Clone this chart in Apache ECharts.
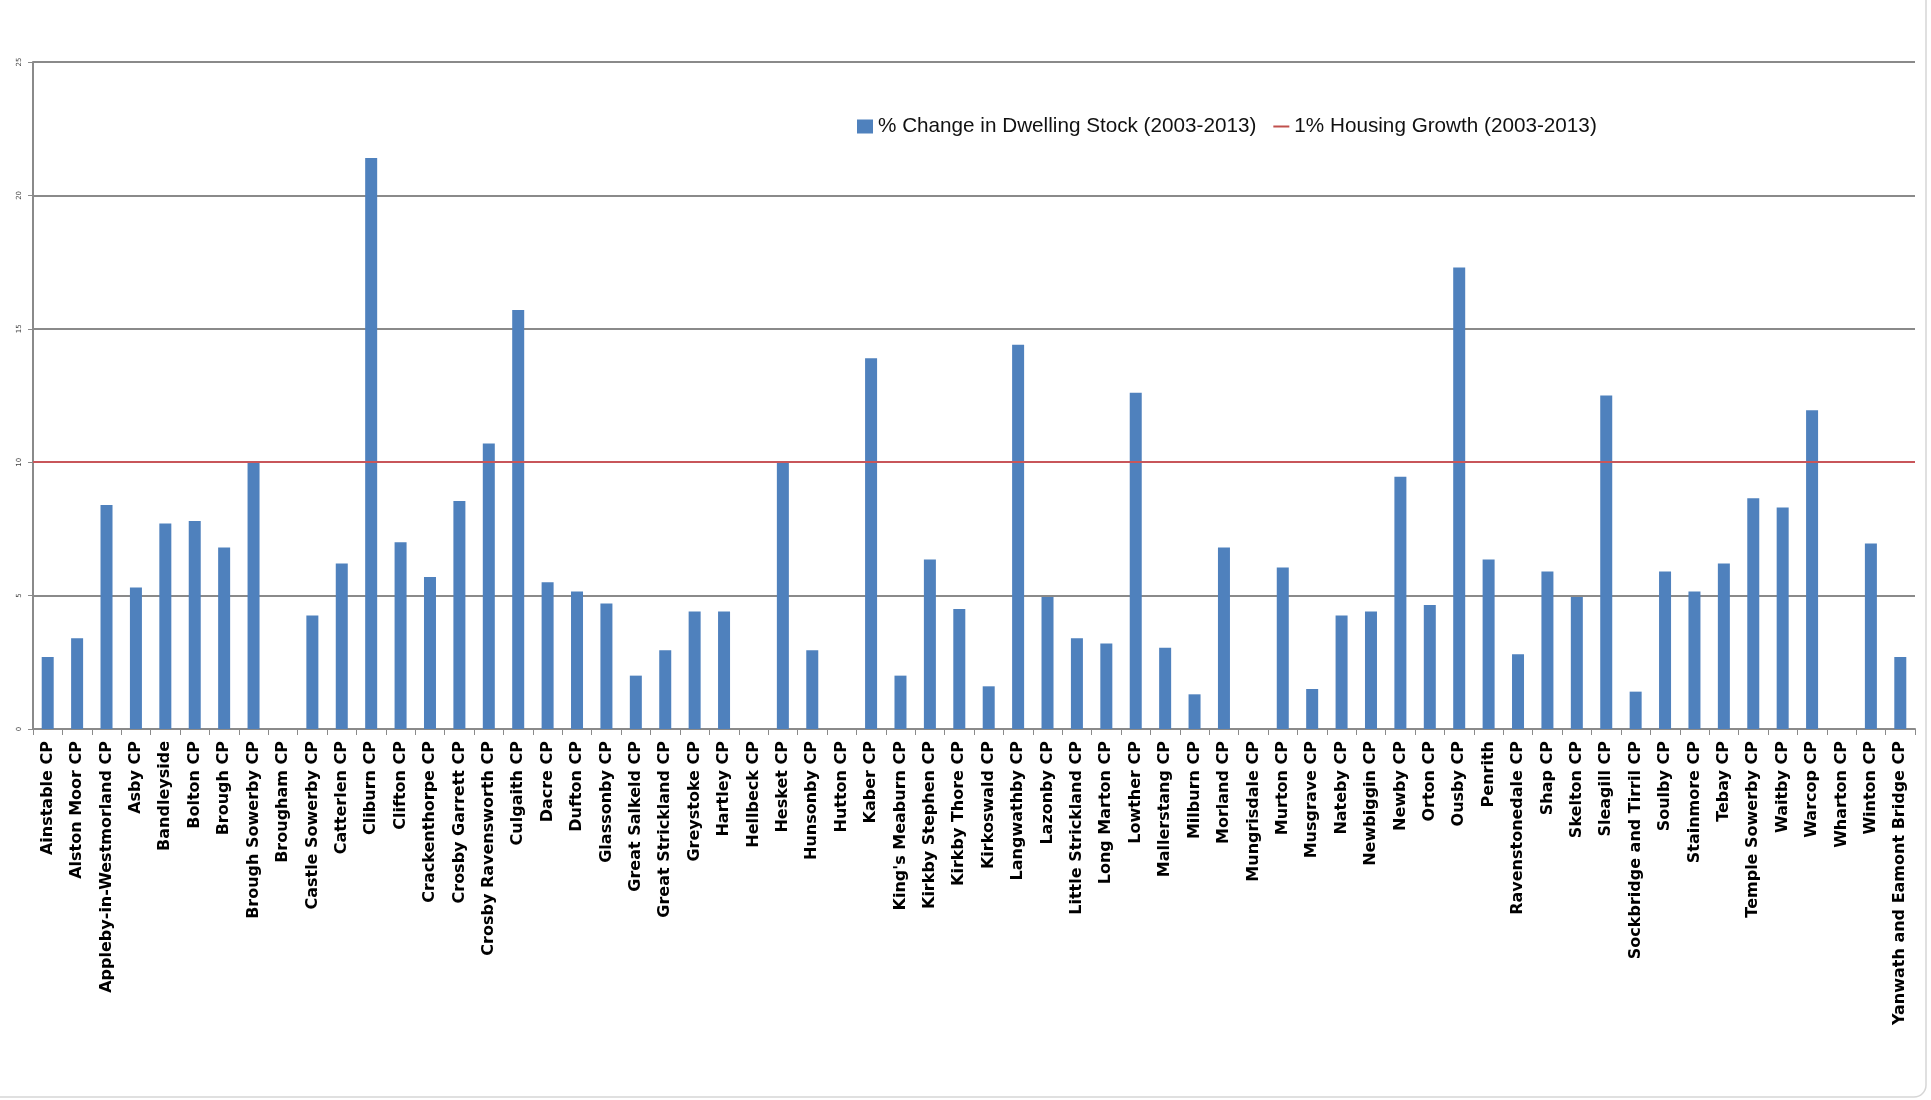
<!DOCTYPE html>
<html>
<head>
<meta charset="utf-8">
<script src="https://cdn.jsdelivr.net/npm/echarts@6/dist/echarts.min.js"></script>
<style>
html,body{margin:0;padding:0;background:#fff;}
#chart{width:1931px;height:1100px;}
</style>
</head>
<body>
<div id="chart"></div>
<script>
const categories = [
  "Ainstable CP","Alston Moor CP","Appleby-in-Westmorland CP","Asby CP","Bandleyside","Bolton CP","Brough CP","Brough Sowerby CP",
  "Brougham CP","Castle Sowerby CP","Catterlen CP","Cliburn CP","Clifton CP","Crackenthorpe CP","Crosby Garrett CP","Crosby Ravensworth CP",
  "Culgaith CP","Dacre CP","Dufton CP","Glassonby CP","Great Salkeld CP","Great Strickland CP","Greystoke CP","Hartley CP",
  "Hellbeck CP","Hesket CP","Hunsonby CP","Hutton CP","Kaber CP","King's Meaburn CP","Kirkby Stephen CP","Kirkby Thore CP",
  "Kirkoswald CP","Langwathby CP","Lazonby CP","Little Strickland CP","Long Marton CP","Lowther CP","Mallerstang CP","Milburn CP",
  "Morland CP","Mungrisdale CP","Murton CP","Musgrave CP","Nateby CP","Newbiggin CP","Newby CP","Orton CP",
  "Ousby CP","Penrith","Ravenstonedale CP","Shap CP","Skelton CP","Sleagill CP","Sockbridge and Tirril CP","Soulby CP",
  "Stainmore CP","Tebay CP","Temple Sowerby CP","Waitby CP","Warcop CP","Wharton CP","Winton CP","Yanwath and Eamont Bridge CP"
];
const dwellingChange = [
  2.7, 3.4, 8.4, 5.3, 7.7, 7.8, 6.8, 10.0,
  0, 4.25, 6.2, 21.4, 7.0, 5.7, 8.55, 10.7,
  15.7, 5.5, 5.15, 4.7, 2.0, 2.95, 4.4, 4.4,
  0, 10.0, 2.95, 0, 13.9, 2.0, 6.35, 4.5,
  1.6, 14.4, 4.95, 3.4, 3.2, 12.6, 3.05, 1.3,
  6.8, 0, 6.05, 1.5, 4.25, 4.4, 9.45, 4.65,
  17.3, 6.35, 2.8, 5.9, 4.95, 12.5, 1.4, 5.9,
  5.15, 6.2, 8.65, 8.3, 11.95, 0, 6.95, 2.7
];
const growthThreshold = 10;
const yTicks = { min: 0, max: 25, interval: 5 };
const seriesNames = ["% Change in Dwelling Stock (2003-2013)", "1% Housing Growth (2003-2013)"];

const chart = echarts.init(document.getElementById('chart'), null, {renderer: 'canvas'});
chart.setOption({
  animation: false,
  backgroundColor: '#ffffff',
  graphic: [{
    type: 'rect', silent: true, z: -1,
    shape: { x: -20, y: -20, width: 1946, height: 1117, r: 12 },
    style: { fill: 'none', stroke: '#d6d6d6', lineWidth: 1.5 }
  }],
  legend: {
    left: 852, top: 111,
    itemGap: 16, itemWidth: 16, itemHeight: 14,
    textStyle: { fontFamily: 'Liberation Sans Narrow, Liberation Sans, sans-serif', fontSize: 20.7, color: '#111' },
    data: [
      { name: seriesNames[0], icon: 'rect' },
      { name: seriesNames[1], itemStyle: { opacity: 0 }, lineStyle: { color: '#c0504d', width: 2 } }
    ]
  },
  grid: { left: 33, right: 16, top: 62, bottom: 371, containLabel: false },
  xAxis: {
    type: 'category',
    data: categories,
    boundaryGap: true,
    axisLine: { show: true, lineStyle: { color: '#8a8a8a', width: 2 } },
    axisTick: { show: true, length: 6, alignWithLabel: false, lineStyle: { color: '#8a8a8a', width: 1 } },
    axisLabel: {
      interval: 0, rotate: 90, margin: 12,
      fontFamily: 'DejaVu Sans, sans-serif', fontWeight: 'bold', fontSize: 16, color: '#000'
    },
    splitLine: { show: false }
  },
  yAxis: {
    type: 'value',
    min: yTicks.min, max: yTicks.max, interval: yTicks.interval,
    axisLine: { show: true, lineStyle: { color: '#8a8a8a', width: 2 } },
    axisTick: { show: true, length: 5, lineStyle: { color: '#8a8a8a' } },
    axisLabel: { fontSize: 7, color: '#444', rotate: 90, margin: 10, fontFamily: 'DejaVu Sans, sans-serif' },
    splitLine: { show: true, lineStyle: { color: '#8a8a8a', width: 2 } }
  },
  series: [
    {
      name: seriesNames[0],
      type: 'bar',
      data: dwellingChange,
      barWidth: 12,
      itemStyle: { color: '#4f81bd' },
      z: 2
    },
    {
      name: seriesNames[1],
      type: 'line',
      data: [],
      symbol: 'none',
      showSymbol: false,
      color: '#c0504d',
      lineStyle: { color: '#c0504d', width: 2 },
      markLine: {
        silent: true,
        symbol: 'none',
        label: { show: false },
        lineStyle: { color: '#c8565a', width: 2, type: 'solid' },
        data: [{ yAxis: growthThreshold }]
      },
      z: 3
    }
  ]
});
</script>
</body>
</html>
